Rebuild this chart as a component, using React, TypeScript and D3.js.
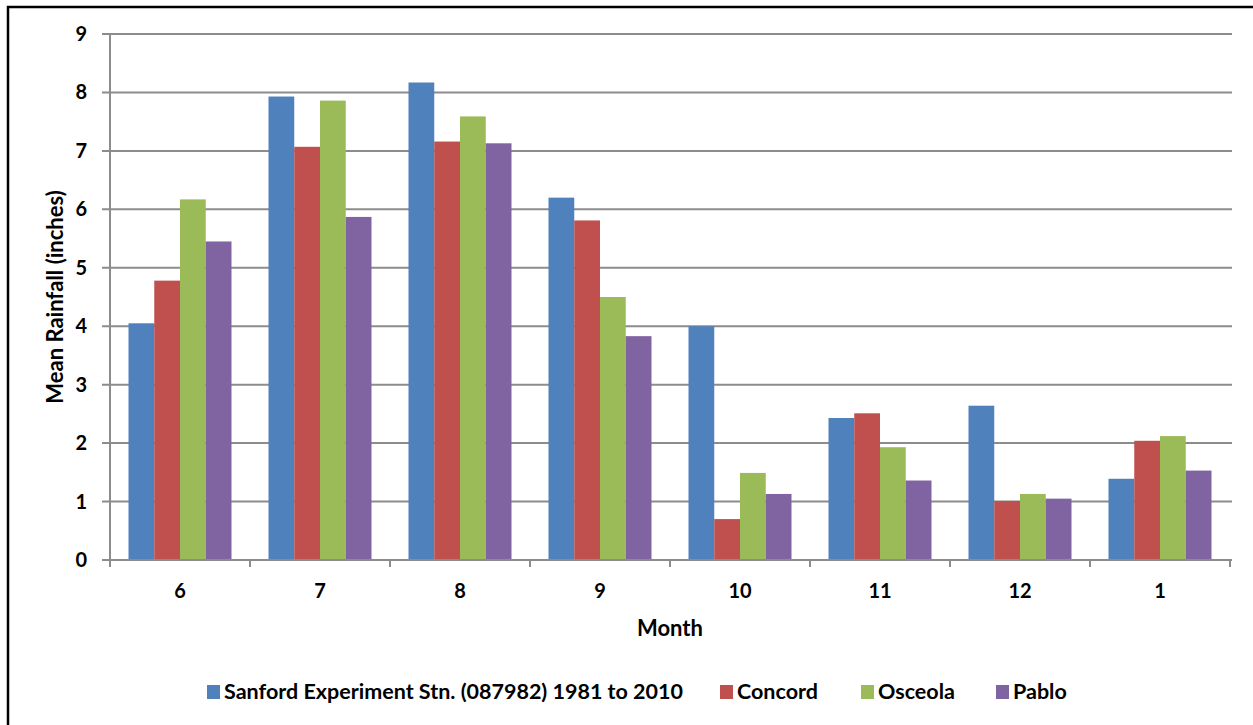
import React, { useEffect, useRef } from 'react';
import * as d3 from 'd3';

const months = ['6', '7', '8', '9', '10', '11', '12', '1'];
const seriesNames = [
  'Sanford Experiment Stn. (087982) 1981 to 2010',
  'Concord',
  'Osceola',
  'Pablo',
];
const sanford = [4.05, 7.93, 8.17, 6.2, 4.0, 2.43, 2.64, 1.39];
const concord = [4.78, 7.07, 7.16, 5.81, 0.7, 2.51, 1.01, 2.04];
const osceola = [6.17, 7.86, 7.59, 4.5, 1.49, 1.93, 1.13, 2.12];
const pablo = [5.45, 5.87, 7.13, 3.83, 1.13, 1.36, 1.05, 1.53];
const yTicks = [0, 1, 2, 3, 4, 5, 6, 7, 8, 9];
const colors = ['#4F81BD', '#C0504D', '#9BBB59', '#8064A2'];

const W = 1253;
const H = 725;
const FONT = 'Lato, "DejaVu Sans", sans-serif';

export default function App() {
  const svgRef = useRef<SVGSVGElement>(null);

  useEffect(() => {
    if (!svgRef.current) return;
    const svg = d3.select(svgRef.current);
    svg.selectAll('*').remove();

    const values = [sanford, concord, osceola, pablo];
    const plot = { left: 110, right: 1230, top: 34, bottom: 560 };

    const x0 = d3.scaleBand<string>().domain(months).range([plot.left, plot.right]).padding(0);
    const bw = x0.bandwidth();
    const x1 = d3.scaleBand<number>().domain([0, 1, 2, 3]).range([18.5, bw - 18.5]).padding(0);
    const y = d3.scaleLinear().domain([0, 9]).range([plot.bottom, plot.top]);

    svg.append('rect').attr('width', W).attr('height', H).attr('fill', '#fff');
    // outer frame (right/bottom edges fall outside the picture)
    svg.append('rect')
      .attr('x', 8).attr('y', 7).attr('width', W + 20).attr('height', H + 20)
      .attr('fill', 'none').attr('stroke', '#000').attr('stroke-width', 2.5);

    // gridlines + y ticks
    svg.append('g').selectAll('line')
      .data(yTicks)
      .enter().append('line')
      .attr('x1', plot.left - 8).attr('x2', plot.right + 2)
      .attr('y1', d => y(d)).attr('y2', d => y(d))
      .attr('stroke', '#8c8c8c').attr('stroke-width', 2);

    svg.append('g').selectAll('text')
      .data(yTicks)
      .enter().append('text')
      .attr('x', 87).attr('y', d => y(d) + 7)
      .attr('text-anchor', 'end')
      .style('font-family', FONT).style('font-weight', 700).style('font-size', '20px')
      .text(d => d);

    // bars
    const g = svg.append('g');
    values.forEach((vals, si) => {
      g.append('g').selectAll('rect')
        .data(vals)
        .enter().append('rect')
        .attr('x', (_, i) => (x0(months[i]) as number) + (x1(si) as number))
        .attr('y', d => y(d))
        .attr('width', x1.bandwidth())
        .attr('height', d => y(0) - y(d))
        .attr('fill', colors[si]);
    });

    // axes lines
    svg.append('line')
      .attr('x1', plot.left).attr('x2', plot.left)
      .attr('y1', plot.top).attr('y2', plot.bottom + 7)
      .attr('stroke', '#8c8c8c').attr('stroke-width', 2);
    svg.append('line')
      .attr('x1', plot.left - 8).attr('x2', plot.right + 1)
      .attr('y1', plot.bottom).attr('y2', plot.bottom)
      .attr('stroke', '#8c8c8c').attr('stroke-width', 2);
    const catTicks = months.map(m => x0(m) as number).concat([plot.right]);
    svg.append('g').selectAll('line')
      .data(catTicks)
      .enter().append('line')
      .attr('x1', d => d).attr('x2', d => d)
      .attr('y1', plot.bottom).attr('y2', plot.bottom + 7)
      .attr('stroke', '#8c8c8c').attr('stroke-width', 2);

    svg.append('g').selectAll('text')
      .data(months)
      .enter().append('text')
      .attr('x', d => (x0(d) as number) + bw / 2)
      .attr('y', 598)
      .attr('text-anchor', 'middle')
      .style('font-family', FONT).style('font-weight', 700).style('font-size', '20px')
      .text(d => d);

    // axis titles
    svg.append('text')
      .attr('x', 670).attr('y', 636)
      .attr('text-anchor', 'middle')
      .style('font-family', FONT).style('font-weight', 700).style('font-size', '22px')
      .text('Month');
    svg.append('text')
      .attr('transform', 'translate(63,297) rotate(-90)')
      .attr('text-anchor', 'middle')
      .style('font-family', FONT).style('font-weight', 700).style('font-size', '22px')
      .text('Mean Rainfall (inches)');

    // legend
    const legendX = [207, 720, 861, 996];
    const lg = svg.append('g');
    seriesNames.forEach((name, i) => {
      lg.append('rect')
        .attr('x', legendX[i]).attr('y', 685)
        .attr('width', 13).attr('height', 14)
        .attr('fill', colors[i]);
      lg.append('text')
        .attr('x', legendX[i] + 17).attr('y', 699)
        .style('font-family', FONT).style('font-weight', 700).style('font-size', '21.5px')
        .text(name);
    });
  }, []);

  return (
    <svg
      ref={svgRef}
      width={W}
      height={H}
      style={{ position: 'absolute', left: 0, top: 0, display: 'block' }}
    />
  );
}
